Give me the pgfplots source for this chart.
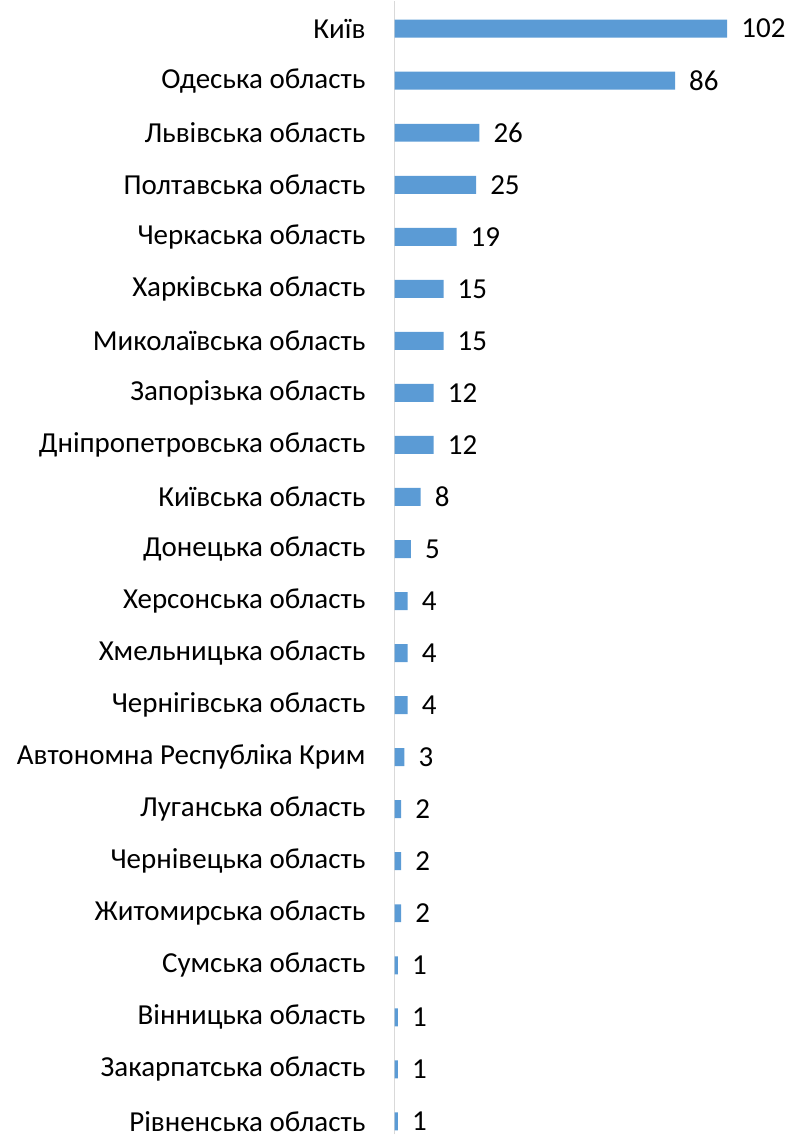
\documentclass[border=0pt]{standalone}
\usepackage{fontspec}
\setmainfont{Carlito}
\usepackage{pgfplots}
\pgfplotsset{compat=1.18}
\definecolor{barblue}{HTML}{5B9BD5}
\definecolor{axgray}{HTML}{D9D9D9}
\begin{document}
\begin{tikzpicture}
\begin{axis}[
  scale only axis,
  width=396pt, height=1135pt,
  xbar, bar width=18pt,
  xmin=0, xmax=121.3,
  ymin=-0.25, ymax=21.54,
  hide x axis,
  axis y line=left,
  axis line style={-, draw=axgray, line width=1.2pt},
  ytick={0,...,21},
  yticklabels={Рівненська область, Закарпатська область, Вінницька область, Сумська область, Житомирська область, Чернівецька область, Луганська область, Автономна Республіка Крим, Чернігівська область, Хмельницька область, Херсонська область, Донецька область, Київська область, Дніпропетровська область, Запорізька область, Миколаївська область, Харківська область, Черкаська область, Полтавська область, Львівська область, Одеська область, Київ},
  major tick length=0pt,
  yticklabel style={font=\fontsize{29}{34}\selectfont, inner sep=0pt, xshift=-29pt, text=black},
  /pgf/number format/assume math mode=true,
  nodes near coords,
  nodes near coords style={font=\fontsize{29}{34}\selectfont, anchor=west, inner sep=0pt, xshift=14pt, text=black},
  point meta=x,
  clip=false,
]
\addplot[fill=barblue, draw=none] coordinates {
(1,0) (1,1) (1,2) (1,3) (2,4) (2,5) (2,6) (3,7) (4,8) (4,9) (4,10) (5,11) (8,12) (12,13) (12,14) (15,15) (15,16) (19,17) (25,18) (26,19) (86,20) (102,21)
};
\end{axis}
\path ([xshift=-395pt]current axis.south west);
\end{tikzpicture}
\end{document}
